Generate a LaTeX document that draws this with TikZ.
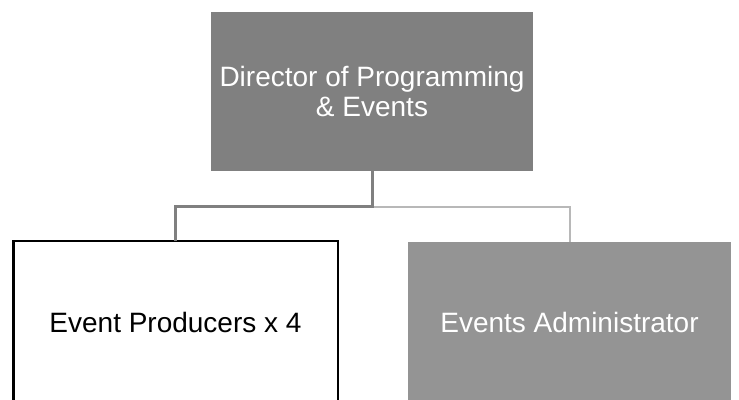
\documentclass[tikz,border=0pt]{standalone}
\usepackage{fontspec}
\setsansfont{Liberation Sans}
\usetikzlibrary{positioning}

\begin{document}
\begin{tikzpicture}[
  font=\sffamily\fontsize{28}{30}\selectfont,
  org/.style={
    rectangle, inner sep=4pt, outer sep=0pt, align=center
  },
  orgHead/.style={org, fill=black!50, text=white,
    minimum width=322pt, minimum height=159pt},
  orgTeam/.style={org, draw=black, line width=2.5pt, fill=white, text=black,
    minimum width=324.5pt, minimum height=162pt},
  orgStaff/.style={org, fill=black!42, text=white,
    minimum width=323pt, minimum height=160pt},
  linkDark/.style={draw=black!50, line width=3pt},
  linkLight/.style={draw=black!28, line width=2pt}
]
\useasboundingbox (0,0) rectangle (739pt,-399pt);

\node[orgHead, anchor=north] (director) at (372pt,-11.7pt)
  {Director of Programming\\\& Events};

\node[orgTeam, anchor=north] (producers) at (175.5pt,-241.2pt)
  {Event Producers x 4};

\node[orgStaff, anchor=north] (admin) at (569.5pt,-242pt)
  {Events Administrator};

% elbow connectors from the director down to both roles
\coordinate (split) at ([yshift=-36pt]director.south);
\draw[linkLight] (split) -| (admin.north);
\draw[linkDark] (director.south) -- (split) -| (producers.north);
\end{tikzpicture}
\end{document}
